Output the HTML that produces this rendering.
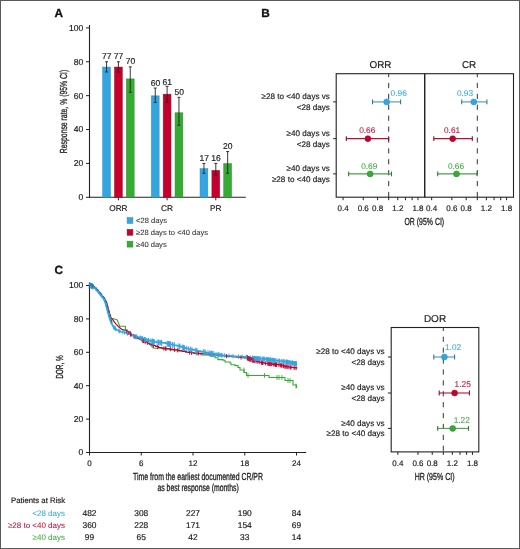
<!DOCTYPE html>
<html><head><meta charset="utf-8"><style>
html,body{margin:0;padding:0;background:#fff;}
svg{display:block;will-change:transform;}
text{font-family:"Liberation Sans",sans-serif;text-rendering:geometricPrecision;}
</style></head><body>
<svg width="520" height="549" viewBox="0 0 520 549">
<rect x="0" y="0" width="520" height="549" fill="#fff"/>
<text x="54.4" y="16.9" font-size="11.8" text-anchor="start" fill="#111" stroke="#111" stroke-width="0.3" font-weight="bold">A</text>
<line x1="89.5" y1="25" x2="89.5" y2="197.8" stroke="#222" stroke-width="1.1" />
<line x1="89.0" y1="197.3" x2="245.8" y2="197.3" stroke="#222" stroke-width="1.1" />
<line x1="86.0" y1="197.3" x2="89.5" y2="197.3" stroke="#222" stroke-width="1" />
<text x="83.3" y="200.20000000000002" font-size="8.6" text-anchor="end" fill="#222" stroke="#222" stroke-width="0.18" >0</text>
<line x1="86.0" y1="163.42000000000002" x2="89.5" y2="163.42000000000002" stroke="#222" stroke-width="1" />
<text x="83.3" y="166.32000000000002" font-size="8.6" text-anchor="end" fill="#222" stroke="#222" stroke-width="0.18" >20</text>
<line x1="86.0" y1="129.54000000000002" x2="89.5" y2="129.54000000000002" stroke="#222" stroke-width="1" />
<text x="83.3" y="132.44000000000003" font-size="8.6" text-anchor="end" fill="#222" stroke="#222" stroke-width="0.18" >40</text>
<line x1="86.0" y1="95.66000000000001" x2="89.5" y2="95.66000000000001" stroke="#222" stroke-width="1" />
<text x="83.3" y="98.56000000000002" font-size="8.6" text-anchor="end" fill="#222" stroke="#222" stroke-width="0.18" >60</text>
<line x1="86.0" y1="61.78" x2="89.5" y2="61.78" stroke="#222" stroke-width="1" />
<text x="83.3" y="64.68" font-size="8.6" text-anchor="end" fill="#222" stroke="#222" stroke-width="0.18" >80</text>
<line x1="86.0" y1="27.900000000000006" x2="89.5" y2="27.900000000000006" stroke="#222" stroke-width="1" />
<text x="83.3" y="30.800000000000004" font-size="8.6" text-anchor="end" fill="#222" stroke="#222" stroke-width="0.18" >100</text>
<text transform="translate(67.3,111.5) rotate(-90) scale(0.672,1)" font-size="10.2" text-anchor="middle" fill="#222" stroke="#222" stroke-width="0.3">Response rate, % (95% CI)</text>
<line x1="118.4" y1="197.3" x2="118.4" y2="200.3" stroke="#222" stroke-width="1" />
<text x="118.4" y="210.9" font-size="8.3" text-anchor="middle" fill="#222" stroke="#222" stroke-width="0.18" >ORR</text>
<rect x="102.65" y="67.06" width="7.8" height="130.24" fill="#33a6e0" stroke="#2a8cc4" stroke-width="0.5"/>
<line x1="106.55000000000001" y1="61.78" x2="106.55000000000001" y2="71.944" stroke="#222" stroke-width="0.9" />
<line x1="105.05000000000001" y1="61.78" x2="108.05000000000001" y2="61.78" stroke="#222" stroke-width="0.9" />
<line x1="105.05000000000001" y1="71.944" x2="108.05000000000001" y2="71.944" stroke="#222" stroke-width="0.9" />
<text x="106.75000000000001" y="58.7" font-size="8.5" text-anchor="middle" fill="#222" stroke="#222" stroke-width="0.18" >77</text>
<rect x="114.50" y="67.06" width="7.8" height="130.24" fill="#c6002d" stroke="#9a0a25" stroke-width="0.5"/>
<line x1="118.4" y1="61.78" x2="118.4" y2="71.944" stroke="#222" stroke-width="0.9" />
<line x1="116.9" y1="61.78" x2="119.9" y2="61.78" stroke="#222" stroke-width="0.9" />
<line x1="116.9" y1="71.944" x2="119.9" y2="71.944" stroke="#222" stroke-width="0.9" />
<text x="118.60000000000001" y="58.7" font-size="8.5" text-anchor="middle" fill="#222" stroke="#222" stroke-width="0.18" >77</text>
<rect x="126.35" y="78.92" width="7.8" height="118.38" fill="#36ab33" stroke="#2a8a2a" stroke-width="0.5"/>
<line x1="130.25" y1="66.862" x2="130.25" y2="92.272" stroke="#222" stroke-width="0.9" />
<line x1="128.75" y1="66.862" x2="131.75" y2="66.862" stroke="#222" stroke-width="0.9" />
<line x1="128.75" y1="92.272" x2="131.75" y2="92.272" stroke="#222" stroke-width="0.9" />
<text x="130.45" y="63.9" font-size="8.5" text-anchor="middle" fill="#222" stroke="#222" stroke-width="0.18" >70</text>
<line x1="167.1" y1="197.3" x2="167.1" y2="200.3" stroke="#222" stroke-width="1" />
<text x="167.1" y="210.9" font-size="8.3" text-anchor="middle" fill="#222" stroke="#222" stroke-width="0.18" >CR</text>
<rect x="151.35" y="95.86" width="7.8" height="101.44" fill="#33a6e0" stroke="#2a8cc4" stroke-width="0.5"/>
<line x1="155.25" y1="88.037" x2="155.25" y2="102.43600000000002" stroke="#222" stroke-width="0.9" />
<line x1="153.75" y1="88.037" x2="156.75" y2="88.037" stroke="#222" stroke-width="0.9" />
<line x1="153.75" y1="102.43600000000002" x2="156.75" y2="102.43600000000002" stroke="#222" stroke-width="0.9" />
<text x="155.45" y="86" font-size="8.5" text-anchor="middle" fill="#222" stroke="#222" stroke-width="0.18" >60</text>
<rect x="163.20" y="94.17" width="7.8" height="103.13" fill="#c6002d" stroke="#9a0a25" stroke-width="0.5"/>
<line x1="167.1" y1="86.343" x2="167.1" y2="102.43600000000002" stroke="#222" stroke-width="0.9" />
<line x1="165.6" y1="86.343" x2="168.6" y2="86.343" stroke="#222" stroke-width="0.9" />
<line x1="165.6" y1="102.43600000000002" x2="168.6" y2="102.43600000000002" stroke="#222" stroke-width="0.9" />
<text x="167.29999999999998" y="84.5" font-size="8.5" text-anchor="middle" fill="#222" stroke="#222" stroke-width="0.18" >61</text>
<rect x="175.05" y="112.80" width="7.8" height="84.50" fill="#36ab33" stroke="#2a8a2a" stroke-width="0.5"/>
<line x1="178.95" y1="97.35400000000001" x2="178.95" y2="125.305" stroke="#222" stroke-width="0.9" />
<line x1="177.45" y1="97.35400000000001" x2="180.45" y2="97.35400000000001" stroke="#222" stroke-width="0.9" />
<line x1="177.45" y1="125.305" x2="180.45" y2="125.305" stroke="#222" stroke-width="0.9" />
<text x="179.14999999999998" y="94.8" font-size="8.5" text-anchor="middle" fill="#222" stroke="#222" stroke-width="0.18" >50</text>
<line x1="215.8" y1="197.3" x2="215.8" y2="200.3" stroke="#222" stroke-width="1" />
<text x="215.8" y="210.9" font-size="8.3" text-anchor="middle" fill="#222" stroke="#222" stroke-width="0.18" >PR</text>
<rect x="200.05" y="168.70" width="7.8" height="28.60" fill="#33a6e0" stroke="#2a8cc4" stroke-width="0.5"/>
<line x1="203.95000000000002" y1="163.42000000000002" x2="203.95000000000002" y2="173.2452" stroke="#222" stroke-width="0.9" />
<line x1="202.45000000000002" y1="163.42000000000002" x2="205.45000000000002" y2="163.42000000000002" stroke="#222" stroke-width="0.9" />
<line x1="202.45000000000002" y1="173.2452" x2="205.45000000000002" y2="173.2452" stroke="#222" stroke-width="0.9" />
<text x="204.15" y="160.8" font-size="8.5" text-anchor="middle" fill="#222" stroke="#222" stroke-width="0.18" >17</text>
<rect x="211.90" y="170.40" width="7.8" height="26.90" fill="#c6002d" stroke="#9a0a25" stroke-width="0.5"/>
<line x1="215.8" y1="163.42000000000002" x2="215.8" y2="175.6168" stroke="#222" stroke-width="0.9" />
<line x1="214.3" y1="163.42000000000002" x2="217.3" y2="163.42000000000002" stroke="#222" stroke-width="0.9" />
<line x1="214.3" y1="175.6168" x2="217.3" y2="175.6168" stroke="#222" stroke-width="0.9" />
<text x="216.0" y="160.8" font-size="8.5" text-anchor="middle" fill="#222" stroke="#222" stroke-width="0.18" >16</text>
<rect x="223.75" y="163.62" width="7.8" height="33.68" fill="#36ab33" stroke="#2a8a2a" stroke-width="0.5"/>
<line x1="227.65" y1="151.562" x2="227.65" y2="173.2452" stroke="#222" stroke-width="0.9" />
<line x1="226.15" y1="151.562" x2="229.15" y2="151.562" stroke="#222" stroke-width="0.9" />
<line x1="226.15" y1="173.2452" x2="229.15" y2="173.2452" stroke="#222" stroke-width="0.9" />
<text x="227.85" y="148.8" font-size="8.5" text-anchor="middle" fill="#222" stroke="#222" stroke-width="0.18" >20</text>
<rect x="127.1" y="217.6" width="5.8" height="5.9" fill="#33a6e0" stroke="#2a8cc4" stroke-width="0.5"/>
<text x="136.1" y="222.9" font-size="7.55" text-anchor="start" fill="#333" stroke="#333" stroke-width="0.08" >&lt;28 days</text>
<rect x="127.1" y="229.4" width="5.8" height="5.9" fill="#c6002d" stroke="#9a0a25" stroke-width="0.5"/>
<text x="136.1" y="234.70000000000002" font-size="7.55" text-anchor="start" fill="#333" stroke="#333" stroke-width="0.08" >≥28 days to &lt;40 days</text>
<rect x="127.1" y="241.2" width="5.8" height="5.9" fill="#36ab33" stroke="#2a8a2a" stroke-width="0.5"/>
<text x="136.1" y="246.5" font-size="7.55" text-anchor="start" fill="#333" stroke="#333" stroke-width="0.08" >≥40 days</text>
<text x="261.3" y="16.9" font-size="11.8" text-anchor="start" fill="#111" stroke="#111" stroke-width="0.3" font-weight="bold">B</text>
<text x="329.9" y="99.2" font-size="8.15" text-anchor="end" fill="#222" stroke="#222" stroke-width="0.18" >≥28 to &lt;40 days vs</text>
<text x="329.9" y="109.80000000000001" font-size="8.15" text-anchor="end" fill="#222" stroke="#222" stroke-width="0.18" >&lt;28 days</text>
<line x1="333.2" y1="101.9" x2="336.5" y2="101.9" stroke="#222" stroke-width="1" />
<text x="329.9" y="135.95000000000002" font-size="8.15" text-anchor="end" fill="#222" stroke="#222" stroke-width="0.18" >≥40 days vs</text>
<text x="329.9" y="146.55" font-size="8.15" text-anchor="end" fill="#222" stroke="#222" stroke-width="0.18" >&lt;28 days</text>
<line x1="333.2" y1="138.65" x2="336.5" y2="138.65" stroke="#222" stroke-width="1" />
<text x="329.9" y="171.20000000000002" font-size="8.15" text-anchor="end" fill="#222" stroke="#222" stroke-width="0.18" >≥40 days vs</text>
<text x="329.9" y="181.8" font-size="8.15" text-anchor="end" fill="#222" stroke="#222" stroke-width="0.18" >≥28 to &lt;40 days</text>
<line x1="333.2" y1="173.9" x2="336.5" y2="173.9" stroke="#222" stroke-width="1" />
<rect x="336.2" y="73.7" width="88.5" height="123.49999999999999" fill="none" stroke="#222" stroke-width="1.1"/>
<text x="380.45" y="67.9" font-size="9.9" text-anchor="middle" fill="#222" stroke="#222" stroke-width="0.18" >ORR</text>
<line x1="388.7" y1="73.7" x2="388.7" y2="200.2" stroke="#333" stroke-width="1" stroke-dasharray="5.2 5.7" stroke-dashoffset="1.7"/>
<line x1="388.7" y1="197.2" x2="388.7" y2="200.2" stroke="#222" stroke-width="1" />
<line x1="343.06872155266706" y1="197.2" x2="343.06872155266706" y2="200.2" stroke="#222" stroke-width="1" />
<text x="343.06872155266706" y="211.2" font-size="8" text-anchor="middle" fill="#222" stroke="#222" stroke-width="0.18" >0.4</text>
<line x1="363.26088393645364" y1="197.2" x2="363.26088393645364" y2="200.2" stroke="#222" stroke-width="1" />
<text x="363.26088393645364" y="211.2" font-size="8" text-anchor="middle" fill="#222" stroke="#222" stroke-width="0.18" >0.6</text>
<line x1="377.58745114455235" y1="197.2" x2="377.58745114455235" y2="200.2" stroke="#222" stroke-width="1" />
<text x="377.58745114455235" y="211.2" font-size="8" text-anchor="middle" fill="#222" stroke="#222" stroke-width="0.18" >0.8</text>
<line x1="397.7796135283389" y1="197.2" x2="397.7796135283389" y2="200.2" stroke="#222" stroke-width="1" />
<text x="397.7796135283389" y="211.2" font-size="8" text-anchor="middle" fill="#222" stroke="#222" stroke-width="0.18" >1.2</text>
<line x1="405.4563173837364" y1="197.2" x2="405.4563173837364" y2="200.2" stroke="#222" stroke-width="1" />
<line x1="412.10618073643764" y1="197.2" x2="412.10618073643764" y2="200.2" stroke="#222" stroke-width="1" />
<line x1="417.9717759121255" y1="197.2" x2="417.9717759121255" y2="200.2" stroke="#222" stroke-width="1" />
<text x="417.9717759121255" y="211.2" font-size="8" text-anchor="middle" fill="#222" stroke="#222" stroke-width="0.18" >1.8</text>
<line x1="372.5" y1="101.9" x2="400.6" y2="101.9" stroke="#4a94bf" stroke-width="1.1" />
<line x1="372.5" y1="99.5" x2="372.5" y2="104.30000000000001" stroke="#3a7396" stroke-width="1.1" />
<line x1="400.6" y1="99.5" x2="400.6" y2="104.30000000000001" stroke="#3a7396" stroke-width="1.1" />
<circle cx="386.7" cy="101.9" r="3.0" fill="#33a6e0" stroke="#2a8cc4" stroke-width="0.5"/>
<text x="390.6" y="95.80000000000001" font-size="8.3" text-anchor="start" fill="#33a6e0" stroke="#33a6e0" stroke-width="0.05" >0.96</text>
<line x1="346.3" y1="138.65" x2="388.65" y2="138.65" stroke="#b80f2e" stroke-width="1.1" />
<line x1="346.3" y1="136.25" x2="346.3" y2="141.05" stroke="#85102a" stroke-width="1.1" />
<line x1="388.65" y1="136.25" x2="388.65" y2="141.05" stroke="#85102a" stroke-width="1.1" />
<circle cx="367.9" cy="138.65" r="3.0" fill="#c6002d" stroke="#9a0a25" stroke-width="0.5"/>
<text x="359.2" y="132.75" font-size="8.3" text-anchor="start" fill="#c6002d" stroke="#c6002d" stroke-width="0.05" >0.66</text>
<line x1="348.65" y1="173.9" x2="391.5" y2="173.9" stroke="#4a9e4a" stroke-width="1.1" />
<line x1="348.65" y1="171.5" x2="348.65" y2="176.3" stroke="#377a37" stroke-width="1.1" />
<line x1="391.5" y1="171.5" x2="391.5" y2="176.3" stroke="#377a37" stroke-width="1.1" />
<circle cx="370.1" cy="173.9" r="3.0" fill="#36ab33" stroke="#2a8a2a" stroke-width="0.5"/>
<text x="361.2" y="168.6" font-size="8.3" text-anchor="start" fill="#36ab33" stroke="#36ab33" stroke-width="0.05" >0.69</text>
<rect x="424.7" y="73.7" width="88.80000000000001" height="123.49999999999999" fill="none" stroke="#222" stroke-width="1.1"/>
<text x="469.1" y="67.9" font-size="9.9" text-anchor="middle" fill="#222" stroke="#222" stroke-width="0.18" >CR</text>
<line x1="477.3" y1="73.7" x2="477.3" y2="200.2" stroke="#333" stroke-width="1" stroke-dasharray="5.2 5.7" stroke-dashoffset="1.7"/>
<line x1="477.3" y1="197.2" x2="477.3" y2="200.2" stroke="#222" stroke-width="1" />
<line x1="431.6687215526671" y1="197.2" x2="431.6687215526671" y2="200.2" stroke="#222" stroke-width="1" />
<text x="431.6687215526671" y="211.2" font-size="8" text-anchor="middle" fill="#222" stroke="#222" stroke-width="0.18" >0.4</text>
<line x1="451.86088393645366" y1="197.2" x2="451.86088393645366" y2="200.2" stroke="#222" stroke-width="1" />
<text x="451.86088393645366" y="211.2" font-size="8" text-anchor="middle" fill="#222" stroke="#222" stroke-width="0.18" >0.6</text>
<line x1="466.18745114455237" y1="197.2" x2="466.18745114455237" y2="200.2" stroke="#222" stroke-width="1" />
<text x="466.18745114455237" y="211.2" font-size="8" text-anchor="middle" fill="#222" stroke="#222" stroke-width="0.18" >0.8</text>
<line x1="486.37961352833895" y1="197.2" x2="486.37961352833895" y2="200.2" stroke="#222" stroke-width="1" />
<text x="486.37961352833895" y="211.2" font-size="8" text-anchor="middle" fill="#222" stroke="#222" stroke-width="0.18" >1.2</text>
<line x1="494.0563173837364" y1="197.2" x2="494.0563173837364" y2="200.2" stroke="#222" stroke-width="1" />
<line x1="500.70618073643766" y1="197.2" x2="500.70618073643766" y2="200.2" stroke="#222" stroke-width="1" />
<line x1="506.57177591212553" y1="197.2" x2="506.57177591212553" y2="200.2" stroke="#222" stroke-width="1" />
<text x="506.57177591212553" y="211.2" font-size="8" text-anchor="middle" fill="#222" stroke="#222" stroke-width="0.18" >1.8</text>
<line x1="461.7" y1="101.9" x2="486.9" y2="101.9" stroke="#4a94bf" stroke-width="1.1" />
<line x1="461.7" y1="99.5" x2="461.7" y2="104.30000000000001" stroke="#3a7396" stroke-width="1.1" />
<line x1="486.9" y1="99.5" x2="486.9" y2="104.30000000000001" stroke="#3a7396" stroke-width="1.1" />
<circle cx="473.8" cy="101.9" r="3.0" fill="#33a6e0" stroke="#2a8cc4" stroke-width="0.5"/>
<text x="456.9" y="95.80000000000001" font-size="8.3" text-anchor="start" fill="#33a6e0" stroke="#33a6e0" stroke-width="0.05" >0.93</text>
<line x1="433.8" y1="138.65" x2="472.3" y2="138.65" stroke="#b80f2e" stroke-width="1.1" />
<line x1="433.8" y1="136.25" x2="433.8" y2="141.05" stroke="#85102a" stroke-width="1.1" />
<line x1="472.3" y1="136.25" x2="472.3" y2="141.05" stroke="#85102a" stroke-width="1.1" />
<circle cx="452.7" cy="138.65" r="3.0" fill="#c6002d" stroke="#9a0a25" stroke-width="0.5"/>
<text x="444.0" y="132.75" font-size="8.3" text-anchor="start" fill="#c6002d" stroke="#c6002d" stroke-width="0.05" >0.61</text>
<line x1="437.7" y1="173.9" x2="477.1" y2="173.9" stroke="#4a9e4a" stroke-width="1.1" />
<line x1="437.7" y1="171.5" x2="437.7" y2="176.3" stroke="#377a37" stroke-width="1.1" />
<line x1="477.1" y1="171.5" x2="477.1" y2="176.3" stroke="#377a37" stroke-width="1.1" />
<circle cx="456.5" cy="173.9" r="3.0" fill="#36ab33" stroke="#2a8a2a" stroke-width="0.5"/>
<text x="447.9" y="168.6" font-size="8.3" text-anchor="start" fill="#36ab33" stroke="#36ab33" stroke-width="0.05" >0.66</text>
<text transform="translate(424.3,224.6) scale(0.68,1)" font-size="10.2" text-anchor="middle" fill="#222" stroke="#222" stroke-width="0.3">OR (95% CI)</text>
<text x="54.4" y="274.4" font-size="11.8" text-anchor="start" fill="#111" stroke="#111" stroke-width="0.3" font-weight="bold">C</text>
<line x1="89.5" y1="282.5" x2="89.5" y2="453.0" stroke="#222" stroke-width="1.1" />
<line x1="89.0" y1="452.5" x2="306.2" y2="452.5" stroke="#222" stroke-width="1.1" />
<line x1="86.0" y1="452.5" x2="89.5" y2="452.5" stroke="#222" stroke-width="1" />
<text x="83.3" y="455.4" font-size="8.6" text-anchor="end" fill="#222" stroke="#222" stroke-width="0.18" >0</text>
<line x1="86.0" y1="419.1" x2="89.5" y2="419.1" stroke="#222" stroke-width="1" />
<text x="83.3" y="422.0" font-size="8.6" text-anchor="end" fill="#222" stroke="#222" stroke-width="0.18" >20</text>
<line x1="86.0" y1="385.7" x2="89.5" y2="385.7" stroke="#222" stroke-width="1" />
<text x="83.3" y="388.59999999999997" font-size="8.6" text-anchor="end" fill="#222" stroke="#222" stroke-width="0.18" >40</text>
<line x1="86.0" y1="352.3" x2="89.5" y2="352.3" stroke="#222" stroke-width="1" />
<text x="83.3" y="355.2" font-size="8.6" text-anchor="end" fill="#222" stroke="#222" stroke-width="0.18" >60</text>
<line x1="86.0" y1="318.9" x2="89.5" y2="318.9" stroke="#222" stroke-width="1" />
<text x="83.3" y="321.79999999999995" font-size="8.6" text-anchor="end" fill="#222" stroke="#222" stroke-width="0.18" >80</text>
<line x1="86.0" y1="285.5" x2="89.5" y2="285.5" stroke="#222" stroke-width="1" />
<text x="83.3" y="288.4" font-size="8.6" text-anchor="end" fill="#222" stroke="#222" stroke-width="0.18" >100</text>
<line x1="89.5" y1="452.5" x2="89.5" y2="455.5" stroke="#222" stroke-width="1" />
<text x="89.5" y="466" font-size="8" text-anchor="middle" fill="#222" stroke="#222" stroke-width="0.18" >0</text>
<line x1="141.25" y1="452.5" x2="141.25" y2="455.5" stroke="#222" stroke-width="1" />
<text x="141.25" y="466" font-size="8" text-anchor="middle" fill="#222" stroke="#222" stroke-width="0.18" >6</text>
<line x1="193.0" y1="452.5" x2="193.0" y2="455.5" stroke="#222" stroke-width="1" />
<text x="193.0" y="466" font-size="8" text-anchor="middle" fill="#222" stroke="#222" stroke-width="0.18" >12</text>
<line x1="244.75" y1="452.5" x2="244.75" y2="455.5" stroke="#222" stroke-width="1" />
<text x="244.75" y="466" font-size="8" text-anchor="middle" fill="#222" stroke="#222" stroke-width="0.18" >18</text>
<line x1="296.5" y1="452.5" x2="296.5" y2="455.5" stroke="#222" stroke-width="1" />
<text x="296.5" y="466" font-size="8" text-anchor="middle" fill="#222" stroke="#222" stroke-width="0.18" >24</text>
<text transform="translate(198,479.5) scale(0.678,1)" font-size="10.2" text-anchor="middle" fill="#222" stroke="#222" stroke-width="0.3">Time from the earliest documented CR/PR</text>
<text transform="translate(198.1,490.6) scale(0.675,1)" font-size="10.2" text-anchor="middle" fill="#222" stroke="#222" stroke-width="0.3">as best response (months)</text>
<text transform="translate(62.8,367) rotate(-90) scale(0.635,1)" font-size="10.2" text-anchor="middle" fill="#222" stroke="#222" stroke-width="0.3">DOR, %</text>
<path d="M89.5,284 L92,285.8 L95,288.3 L98,291.5 L101,295.5 L104,298.8 L106,302.5 L107.5,308 L109,313.5 L110.8,318.5 H113 L117.3,320 L119.5,325.5 V326.2 H125.4 V330 L130,334 L135,337 L140,339.5 L145,341.5 L150,344.5 L152,346.5 L154,348.3 H163 V349 H170 V350 H178 V351 H186 V352.5 H194 V353.8 H201 V355 H210 V356.2 H215 V357.7 H218 V359.6 H223 V360.3 H225 V362 H230 V363 H231 V364.8 H235 V365.6 H238 V367.5 H240 V370 H244 V372.5 H246.5 V375.5 H269 V377.5 H285 V380.5 H293 V385 H296.5 V388" stroke="#36ab33" stroke-width="1.1" fill="none"/>
<path d="M90.1,283.7 L92.6,285.5 L95.6,288.0 L98.6,291.2 L101.6,295.2 L104.6,298.5 L106.6,302.2 L108.1,307.7 L109.6,313.2 L111.1,318.2 L113.1,320.2 L115.6,323.7 L118.6,326.7 L121.6,329.2 L124.0,330.1H127.1V331.9H130.2V334.1H131.1V334.7H132.1V335.3H134.9V336.9H137.5V338.2H139.9V339.4H141.4V340.1H143.7V341.0H145.9V342.0H148.1V343.2H149.3V343.8H151.1V344.7H152.9V345.5H155.4V346.4H158.6V347.5H161.7V348.2H163.8V348.4H165.7V348.6H167.1V348.7H168.0V348.8H168.9V348.9H170.8V349.2H172.3V349.5H174.1V349.8H177.0V350.2H179.1V350.6H181.2V351.0H182.6V351.3H183.4V351.4H185.0V351.7H186.1V352.0H188.2V352.3H191.4V352.8H193.8V353.0H195.0V353.1H198.0V353.4H200.7V353.6H203.2V353.8H206.2V354.0H208.8V354.3H211.5V354.6H213.2V354.8H216.3V355.2H219.4V355.5H220.6V355.7H223.2V355.9H225.8V356.1H227.7V356.3H229.7V356.5H231.7V356.7H234.7V357.0H236.7V357.1H239.5V357.4H241.2V357.5H244.1V357.8H247.1V358.0H249.0V358.7H251.1V359.5H254.1V360.6H256.7V361.5H258.6V362.0H260.0V362.3H261.6V362.7H264.0V363.1H265.2V363.3H268.2V363.7H269.7V363.9H272.6V364.3H274.2V364.4H277.3V364.7H279.8V365.0H281.8V365.5H283.8V366.1H286.2V366.7H288.4V367.0H290.0V367.2H291.2V367.4H293.3V367.7H296.3V368.2H297.0V368.3" stroke="#c6002d" stroke-width="1.2" fill="none"/>
<path d="M89.5,284.0 L92.0,285.5 L95.0,288.0 L98.0,291.2 L101.0,295.0 L103.7,298.2 L105.4,302.0 L106.9,307.5 L108.4,313.0 L110.0,318.5 L111.6,323.5 L113.8,327.5 L117.0,330.0 L121.0,331.8 L124.0,332.3H125.2V332.6H127.1V333.4H128.6V334.0H130.7V334.8H132.7V335.6H133.6V335.9H134.4V336.2H136.9V337.0H138.2V337.3H139.4V337.6H142.3V338.6H144.0V339.2H146.5V340.0H148.3V340.5H150.4V341.1H151.4V341.3H153.5V341.8H156.1V342.3H158.0V342.4H160.3V342.6H162.4V342.8H163.3V342.9H165.7V343.4H167.7V343.8H169.0V344.1H169.8V344.3H172.4V344.8H174.1V345.2H176.4V345.7H179.0V346.3H181.3V346.9H184.0V347.8H185.6V348.4H188.0V349.0H189.7V349.3H192.5V349.9H195.1V350.5H196.0V350.7H197.0V350.9H198.2V351.1H201.0V351.7H202.7V352.0H204.7V352.4H206.1V352.6H207.9V352.9H209.5V353.2H211.0V353.5H212.9V353.8H214.9V354.1H217.6V354.6H219.8V355.0H222.5V355.2H225.1V355.5H228.0V355.7H230.1V355.9H231.2V356.0H233.8V356.3H236.6V356.5H239.3V356.6H241.2V356.7H243.5V356.8H244.6V356.9H247.2V357.2H249.1V357.5H250.4V357.7H251.3V357.9H253.9V358.3H256.7V358.6H257.6V358.7H260.1V358.7H261.7V358.8H262.7V358.9H264.1V359.1H266.5V359.4H269.1V359.7H269.9V359.8H271.9V360.1H272.8V360.2H275.0V360.5H276.5V360.7H279.1V361.0H281.9V361.4H283.7V361.6H286.6V362.1H288.0V362.3H288.9V362.4H290.9V362.8H291.7V362.9H292.8V363.1H294.4V363.3H296.5V363.7H296.6V363.7" stroke="#33a6e0" stroke-width="1.6" fill="none" stroke-linejoin="round"/>
<path d="M244,367.6V372.4M248,373.1V377.9M264.5,373.1V377.9M277,375.1V379.9M279,375.1V379.9M282,375.1V379.9M288,378.1V382.9M290,378.1V382.9M296,383.6V388.4" stroke="#36ab33" stroke-width="0.9" fill="none"/>
<path d="M127.0,330.2V334.4M128.1,330.8V335.0M130.5,332.2V336.4M131.1,332.6V336.8M133.5,334.0V338.2M135.1,335.0V339.2M142.2,338.3V342.5M142.8,338.5V342.7M143.5,338.8V343.0M144.2,339.1V343.3M145.4,339.6V343.8M147.4,340.7V344.9M153.4,343.6V347.8M157.4,345.0V349.2M163.8,346.3V350.5M165.5,346.4V350.6M166.0,346.5V350.7M170.4,347.1V351.3M174.6,347.8V352.0M177.6,348.2V352.4M189.6,350.5V354.7M191.5,350.7V354.9M196.9,351.2V355.4M198.6,351.3V355.5M226.5,354.1V358.3M241.0,355.4V359.6M249.0,356.6V360.8M250.0,357.0V361.2M250.1,357.1V361.3M252.9,358.1V362.3M252.9,358.1V362.3M254.2,358.6V362.8M254.6,358.7V362.9M256.0,359.2V363.4M257.3,359.5V363.7M259.2,360.0V364.2M261.4,360.5V364.7M262.0,360.7V364.9M262.4,360.8V365.0M262.7,360.8V365.0M262.7,360.8V365.0M265.6,361.2V365.4M267.9,361.6V365.8M268.4,361.7V365.9M269.7,361.8V366.0M269.8,361.9V366.1M270.7,362.0V366.2M271.4,362.0V366.2M273.3,362.2V366.4M274.4,362.3V366.5M275.7,362.5V366.7M275.7,362.5V366.7M276.0,362.5V366.7M276.1,362.5V366.7M276.3,362.5V366.7M276.7,362.6V366.8M278.9,362.8V367.0M280.4,363.0V367.2M281.0,363.2V367.4M281.8,363.4V367.6M281.9,363.5V367.7M283.5,363.9V368.1M284.9,364.4V368.6M285.2,364.4V368.6M286.7,364.7V368.9M287.8,364.8V369.0M289.0,365.0V369.2M290.8,365.3V369.5M290.8,365.3V369.5M294.2,365.8V370.0M296.0,366.1V370.3" stroke="#c6002d" stroke-width="0.9" fill="none"/>
<path d="M89.7,281.9V286.4M91.8,283.1V287.6M91.8,283.1V287.6M92.0,283.2V287.7M92.4,283.6V288.1M93.0,284.1V288.6M93.4,284.4V288.9M96.2,287.0V291.5M98.4,289.5V294.0M100.3,291.9V296.4M101.8,293.7V298.2M105.7,300.9V305.4M113.7,325.0V329.5M114.3,325.6V330.1M115.3,326.4V330.9M115.6,326.7V331.2M118.9,328.6V333.1M119.8,329.0V333.5M122.9,329.9V334.4M124.6,330.2V334.7M127.4,331.2V335.7M133.5,333.7V338.2M134.9,334.2V338.7M136.2,334.6V339.1M136.4,334.6V339.1M136.7,334.7V339.2M140.0,335.6V340.1M140.3,335.7V340.2M141.9,336.2V340.7M142.1,336.3V340.8M142.2,336.3V340.8M144.3,337.0V341.5M144.4,337.1V341.6M145.1,337.3V341.8M145.5,337.4V341.9M147.0,337.9V342.4M148.3,338.2V342.7M148.4,338.3V342.8M148.5,338.3V342.8M216.0,352.1V356.6M218.0,352.4V356.9M218.2,352.4V356.9M218.5,352.5V357.0M219.0,352.6V357.1M220.2,352.8V357.3M221.4,352.9V357.4M222.0,352.9V357.4M224.6,353.2V357.7M229.0,353.6V358.1M233.0,354.0V358.5M238.5,354.3V358.8M242.3,354.5V359.0M246.2,354.8V359.3M246.7,354.9V359.4M247.0,355.0V359.5M247.4,355.0V359.5M247.5,355.0V359.5M250.3,355.5V360.0M252.5,355.8V360.3M252.7,355.8V360.3M252.7,355.8V360.3M253.5,356.0V360.5M253.7,356.0V360.5M254.7,356.1V360.6M254.8,356.2V360.7M255.1,356.2V360.7M255.3,356.2V360.7M256.0,356.4V360.9M256.4,356.4V360.9M256.8,356.4V360.9M257.2,356.4V360.9M257.6,356.4V360.9M257.6,356.4V360.9M258.3,356.4V360.9M258.8,356.4V360.9M259.2,356.5V361.0M259.2,356.5V361.0M260.3,356.5V361.0M260.9,356.5V361.0M262.6,356.6V361.1M263.0,356.7V361.2M263.9,356.8V361.3M264.0,356.8V361.3M264.1,356.8V361.3M264.6,356.9V361.4M266.2,357.1V361.6M266.5,357.1V361.6M267.4,357.3V361.8M267.5,357.3V361.8M268.1,357.3V361.8M268.4,357.4V361.9M268.8,357.4V361.9M269.4,357.5V362.0M270.1,357.6V362.1M270.4,357.6V362.1M270.5,357.7V362.2M271.6,357.8V362.3M272.4,357.9V362.4M272.4,357.9V362.4M272.7,357.9V362.4M272.9,358.0V362.5M273.1,358.0V362.5M274.0,358.1V362.6M274.3,358.2V362.7M274.4,358.2V362.7M275.8,358.3V362.8M275.9,358.4V362.9M277.8,358.6V363.1M279.1,358.8V363.3M279.3,358.8V363.3M279.5,358.8V363.3M279.7,358.9V363.4M281.3,359.1V363.6M283.0,359.3V363.8M283.0,359.3V363.8M283.7,359.4V363.9M284.3,359.5V364.0M285.9,359.7V364.2M286.2,359.8V364.3M286.8,359.8V364.3M286.8,359.8V364.3M286.8,359.9V364.4M287.1,359.9V364.4M287.1,359.9V364.4M287.4,359.9V364.4M287.7,360.0V364.5M288.1,360.1V364.6M288.2,360.1V364.6M288.9,360.2V364.7M289.5,360.3V364.8M290.5,360.4V364.9M291.9,360.7V365.2M292.1,360.7V365.2M292.1,360.7V365.2M292.4,360.8V365.3M292.4,360.8V365.3M292.8,360.8V365.3M293.6,361.0V365.5M293.8,361.0V365.5M294.3,361.1V365.6M294.7,361.1V365.6M294.8,361.2V365.7M295.5,361.3V365.8M295.6,361.3V365.8M296.0,361.4V365.9M296.2,361.4V365.9M296.4,361.4V365.9" stroke="#33a6e0" stroke-width="0.9" fill="none"/>
<path d="M247.5,355.7V360.7M248.6,356.1V361.1M249.7,356.5V361.5M250.8,356.9V361.9M252.0,357.4V362.4M253.1,357.8V362.8" stroke="#c6002d" stroke-width="0.9" fill="none"/>
<path d="M89.5,284.0 L92.0,285.5 L95.0,288.0 L98.0,291.2 L101.0,295.0 L103.7,298.2 L105.4,302.0 L106.9,307.5 L108.4,313.0 L110.0,318.5 L111.6,323.5" stroke="#33a6e0" stroke-width="2.3" fill="none" stroke-linejoin="round"/>
<path d="M92.8,285.2 L95.8,287.7 L98.8,290.9 L101.8,294.7 L104.5,297.9 L106.2,301.7 L107.7,307.2 L109.2,312.7 L110.8,318.2 L112.4,323.2" stroke="#253a70" stroke-width="1.0" fill="none" opacity="0.7" stroke-dasharray="3 2"/>
<path d="M89.3,282.6V289 M90.4,283V288.6 M91.6,283.4V289 M92.7,284V289.6" stroke="#2d6f9a" stroke-width="0.9" fill="none" opacity="0.85"/>
<path d="M150.1,338.3V343.8M152.0,338.7V344.2M152.2,338.8V344.3M152.4,338.8V344.3M152.4,338.8V344.3M153.2,339.0V344.5M153.3,339.0V344.5M153.7,339.1V344.6M154.4,339.3V344.8M157.1,339.6V345.1M158.3,339.7V345.2M159.0,339.8V345.3M159.1,339.8V345.3M160.7,339.9V345.4M161.4,339.9V345.4M161.5,339.9V345.4M161.7,340.0V345.5M167.0,340.9V346.4M167.9,341.1V346.6M168.1,341.1V346.6M168.5,341.2V346.7M169.4,341.4V346.9M169.8,341.5V347.0M169.9,341.5V347.0M170.1,341.6V347.1M170.3,341.6V347.1M172.2,342.0V347.5M172.7,342.1V347.6M174.1,342.4V347.9M174.4,342.5V348.0M178.2,343.4V348.9M179.7,343.7V349.2M179.8,343.7V349.2M182.3,344.5V350.0M183.3,344.9V350.4M183.3,344.9V350.4M183.7,345.0V350.5M184.5,345.3V350.8M186.4,345.8V351.3M188.3,346.3V351.8M190.4,346.7V352.2M190.6,346.8V352.3M192.0,347.1V352.6M195.4,347.8V353.3M196.6,348.1V353.6M197.1,348.2V353.7M203.3,349.3V354.8M203.9,349.4V354.9M204.0,349.5V355.0M205.4,349.7V355.2M208.0,350.2V355.7M209.6,350.5V356.0M210.8,350.7V356.2M211.7,350.8V356.3M211.7,350.8V356.3M212.5,351.0V356.5M213.8,351.2V356.7" stroke="#33a6e0" stroke-width="0.9" fill="none"/>
<text x="384.6" y="354.3" font-size="8.15" text-anchor="end" fill="#222" stroke="#222" stroke-width="0.18" >≥28 to &lt;40 days vs</text>
<text x="384.6" y="364.9" font-size="8.15" text-anchor="end" fill="#222" stroke="#222" stroke-width="0.18" >&lt;28 days</text>
<line x1="387.90000000000003" y1="357.0" x2="391.20000000000005" y2="357.0" stroke="#222" stroke-width="1" />
<text x="384.6" y="390.3" font-size="8.15" text-anchor="end" fill="#222" stroke="#222" stroke-width="0.18" >≥40 days vs</text>
<text x="384.6" y="400.9" font-size="8.15" text-anchor="end" fill="#222" stroke="#222" stroke-width="0.18" >&lt;28 days</text>
<line x1="387.90000000000003" y1="393.0" x2="391.20000000000005" y2="393.0" stroke="#222" stroke-width="1" />
<text x="384.6" y="425.7" font-size="8.15" text-anchor="end" fill="#222" stroke="#222" stroke-width="0.18" >≥40 days vs</text>
<text x="384.6" y="436.29999999999995" font-size="8.15" text-anchor="end" fill="#222" stroke="#222" stroke-width="0.18" >≥28 to &lt;40 days</text>
<line x1="387.90000000000003" y1="428.4" x2="391.20000000000005" y2="428.4" stroke="#222" stroke-width="1" />
<rect x="391.2" y="327.5" width="87.60000000000002" height="124.39999999999998" fill="none" stroke="#222" stroke-width="1.1"/>
<text x="435.0" y="321.7" font-size="10" text-anchor="middle" fill="#222" stroke="#222" stroke-width="0.18" >DOR</text>
<line x1="443.3" y1="327.5" x2="443.3" y2="454.9" stroke="#333" stroke-width="1" stroke-dasharray="5.2 5.7" stroke-dashoffset="1.7"/>
<line x1="443.3" y1="451.9" x2="443.3" y2="454.9" stroke="#222" stroke-width="1" />
<line x1="397.8519796990419" y1="451.9" x2="397.8519796990419" y2="454.9" stroke="#222" stroke-width="1" />
<text x="397.8519796990419" y="465.9" font-size="8" text-anchor="middle" fill="#222" stroke="#222" stroke-width="0.18" >0.4</text>
<line x1="417.96304906120685" y1="451.9" x2="417.96304906120685" y2="454.9" stroke="#222" stroke-width="1" />
<text x="417.96304906120685" y="465.9" font-size="8" text-anchor="middle" fill="#222" stroke="#222" stroke-width="0.18" >0.6</text>
<line x1="432.2320798548152" y1="451.9" x2="432.2320798548152" y2="454.9" stroke="#222" stroke-width="1" />
<text x="432.2320798548152" y="465.9" font-size="8" text-anchor="middle" fill="#222" stroke="#222" stroke-width="0.18" >0.8</text>
<line x1="452.3431492169802" y1="451.9" x2="452.3431492169802" y2="454.9" stroke="#222" stroke-width="1" />
<text x="452.3431492169802" y="465.9" font-size="8" text-anchor="middle" fill="#222" stroke="#222" stroke-width="0.18" >1.2</text>
<line x1="459.9890229364122" y1="451.9" x2="459.9890229364122" y2="454.9" stroke="#222" stroke-width="1" />
<line x1="466.6121800105885" y1="451.9" x2="466.6121800105885" y2="454.9" stroke="#222" stroke-width="1" />
<line x1="472.4542185791451" y1="451.9" x2="472.4542185791451" y2="454.9" stroke="#222" stroke-width="1" />
<text x="472.4542185791451" y="465.9" font-size="8" text-anchor="middle" fill="#222" stroke="#222" stroke-width="0.18" >1.8</text>
<line x1="433.8" y1="357.0" x2="454.6" y2="357.0" stroke="#4a94bf" stroke-width="1.1" />
<line x1="433.8" y1="354.6" x2="433.8" y2="359.4" stroke="#3a7396" stroke-width="1.1" />
<line x1="454.6" y1="354.6" x2="454.6" y2="359.4" stroke="#3a7396" stroke-width="1.1" />
<circle cx="444.4" cy="357.0" r="3.0" fill="#33a6e0" stroke="#2a8cc4" stroke-width="0.5"/>
<text x="445" y="350.4" font-size="8.3" text-anchor="start" fill="#33a6e0" stroke="#33a6e0" stroke-width="0.05" >1.02</text>
<line x1="439.2" y1="393.0" x2="469.4" y2="393.0" stroke="#b80f2e" stroke-width="1.1" />
<line x1="439.2" y1="390.6" x2="439.2" y2="395.4" stroke="#85102a" stroke-width="1.1" />
<line x1="469.4" y1="390.6" x2="469.4" y2="395.4" stroke="#85102a" stroke-width="1.1" />
<circle cx="454.6" cy="393.0" r="3.0" fill="#c6002d" stroke="#9a0a25" stroke-width="0.5"/>
<text x="454.6" y="387.1" font-size="8.3" text-anchor="start" fill="#c6002d" stroke="#c6002d" stroke-width="0.05" >1.25</text>
<line x1="437.7" y1="428.4" x2="468.5" y2="428.4" stroke="#4a9e4a" stroke-width="1.1" />
<line x1="437.7" y1="426.0" x2="437.7" y2="430.79999999999995" stroke="#377a37" stroke-width="1.1" />
<line x1="468.5" y1="426.0" x2="468.5" y2="430.79999999999995" stroke="#377a37" stroke-width="1.1" />
<circle cx="452.7" cy="428.4" r="3.0" fill="#36ab33" stroke="#2a8a2a" stroke-width="0.5"/>
<text x="453.7" y="423.09999999999997" font-size="8.3" text-anchor="start" fill="#36ab33" stroke="#36ab33" stroke-width="0.05" >1.22</text>
<text transform="translate(434.6,479.5) scale(0.69,1)" font-size="10.2" text-anchor="middle" fill="#222" stroke="#222" stroke-width="0.3">HR (95% CI)</text>
<text x="11" y="503" font-size="7.8" text-anchor="start" fill="#222" stroke="#222" stroke-width="0.18" >Patients at Risk</text>
<text x="65" y="515.8" font-size="8" text-anchor="end" fill="#33a6e0" stroke="#33a6e0" stroke-width="0.02" >&lt;28 days</text>
<text x="89.5" y="515.8" font-size="8.4" text-anchor="middle" fill="#222" stroke="#222" stroke-width="0.18" >482</text>
<text x="141.25" y="515.8" font-size="8.4" text-anchor="middle" fill="#222" stroke="#222" stroke-width="0.18" >308</text>
<text x="193.0" y="515.8" font-size="8.4" text-anchor="middle" fill="#222" stroke="#222" stroke-width="0.18" >227</text>
<text x="244.75" y="515.8" font-size="8.4" text-anchor="middle" fill="#222" stroke="#222" stroke-width="0.18" >190</text>
<text x="296.5" y="515.8" font-size="8.4" text-anchor="middle" fill="#222" stroke="#222" stroke-width="0.18" >84</text>
<text x="65" y="527.9" font-size="8" text-anchor="end" fill="#c6002d" stroke="#c6002d" stroke-width="0.02" >≥28 to &lt;40 days</text>
<text x="89.5" y="527.9" font-size="8.4" text-anchor="middle" fill="#222" stroke="#222" stroke-width="0.18" >360</text>
<text x="141.25" y="527.9" font-size="8.4" text-anchor="middle" fill="#222" stroke="#222" stroke-width="0.18" >228</text>
<text x="193.0" y="527.9" font-size="8.4" text-anchor="middle" fill="#222" stroke="#222" stroke-width="0.18" >171</text>
<text x="244.75" y="527.9" font-size="8.4" text-anchor="middle" fill="#222" stroke="#222" stroke-width="0.18" >154</text>
<text x="296.5" y="527.9" font-size="8.4" text-anchor="middle" fill="#222" stroke="#222" stroke-width="0.18" >69</text>
<text x="65" y="540.0" font-size="8" text-anchor="end" fill="#36ab33" stroke="#36ab33" stroke-width="0.02" >≥40 days</text>
<text x="89.5" y="540.0" font-size="8.4" text-anchor="middle" fill="#222" stroke="#222" stroke-width="0.18" >99</text>
<text x="141.25" y="540.0" font-size="8.4" text-anchor="middle" fill="#222" stroke="#222" stroke-width="0.18" >65</text>
<text x="193.0" y="540.0" font-size="8.4" text-anchor="middle" fill="#222" stroke="#222" stroke-width="0.18" >42</text>
<text x="244.75" y="540.0" font-size="8.4" text-anchor="middle" fill="#222" stroke="#222" stroke-width="0.18" >33</text>
<text x="296.5" y="540.0" font-size="8.4" text-anchor="middle" fill="#222" stroke="#222" stroke-width="0.18" >14</text>
<rect x="0.5" y="0.5" width="519" height="548" fill="none" stroke="#5a5a5a" stroke-width="1"/>
</svg>
</body></html>
